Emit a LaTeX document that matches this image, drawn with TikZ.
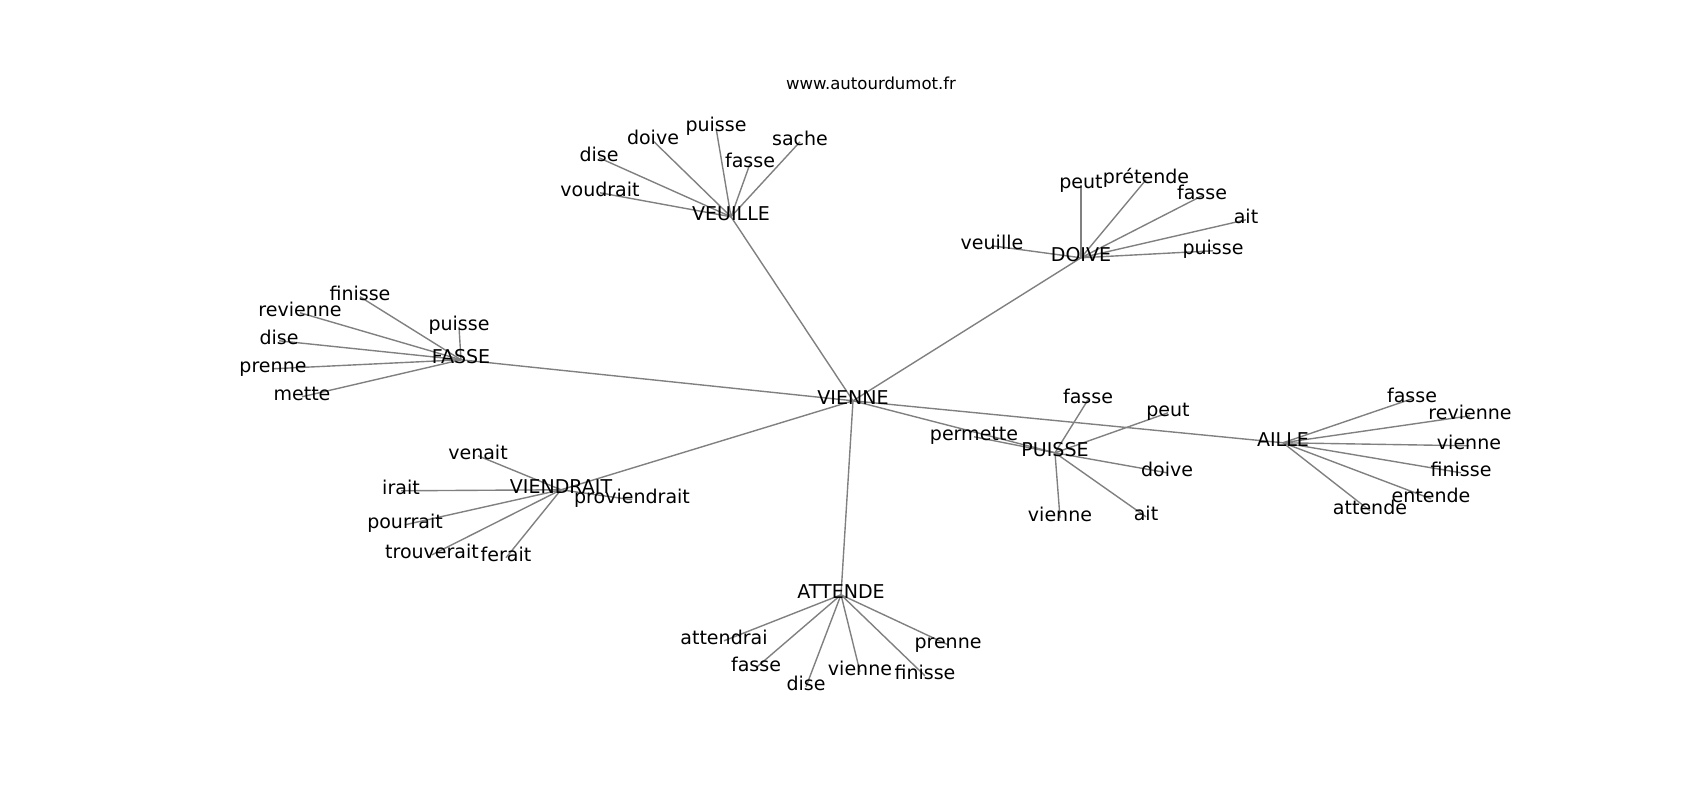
\documentclass[tikz,border=0pt]{standalone}
\usepackage{fontspec}
\setmainfont{DejaVu Sans}
\usetikzlibrary{backgrounds}
\tikzset{
  word/.style={inner sep=0pt, text height=0.76em, text depth=0.24em, yshift=-2pt, font=\fontsize{13.7}{16}\selectfont},
  link/.style={draw=black!50, line width=1pt}
}
\begin{document}
\begin{tikzpicture}[x=0.72pt, y=-0.72pt]
    \useasboundingbox (0,0) rectangle (1700,800);
    \node[word, font=\fontsize{11.9}{14}\selectfont] (site) at (871,83) {www.autourdumot.fr};
    % centre and its seven neighbours
    \node[word] (vienne) at (853,398) {VIENNE};
    \node[word] (veuille) at (731,214) {VEUILLE};
    \node[word] (doive) at (1081,255) {DOIVE};
    \node[word] (fasse) at (461,357) {FASSE};
    \node[word] (viendrait) at (561,487) {VIENDRAIT};
    \node[word] (attende) at (841,592) {ATTENDE};
    \node[word] (puisse) at (1055,450) {PUISSE};
    \node[word] (aille) at (1283,440) {AILLE};
    % VEUILLE
    \node[word] (veuille-voudrait) at (600,190) {voudrait};
    \node[word] (veuille-dise) at (599,155) {dise};
    \node[word] (veuille-doive) at (653,138) {doive};
    \node[word] (veuille-puisse) at (716,125) {puisse};
    \node[word] (veuille-fasse) at (750,161) {fasse};
    \node[word] (veuille-sache) at (800,139) {sache};
    % DOIVE
    \node[word] (doive-peut) at (1081,182) {peut};
    \node[word] (doive-pretende) at (1146,177) {prétende};
    \node[word] (doive-fasse) at (1202,193) {fasse};
    \node[word] (doive-ait) at (1246,217) {ait};
    \node[word] (doive-puisse) at (1213,248) {puisse};
    \node[word] (doive-veuille) at (992,243) {veuille};
    % FASSE
    \node[word] (fasse-finisse) at (360,294) {finisse};
    \node[word] (fasse-revienne) at (300,310) {revienne};
    \node[word] (fasse-dise) at (279,338) {dise};
    \node[word] (fasse-prenne) at (273,366) {prenne};
    \node[word] (fasse-mette) at (302,394) {mette};
    \node[word] (fasse-puisse) at (459,324) {puisse};
    % VIENDRAIT
    \node[word] (viendrait-venait) at (478,453) {venait};
    \node[word] (viendrait-irait) at (401,488) {irait};
    \node[word] (viendrait-pourrait) at (405,522) {pourrait};
    \node[word] (viendrait-trouverait) at (432,552) {trouverait};
    \node[word] (viendrait-ferait) at (506,555) {ferait};
    \node[word] (viendrait-proviendrait) at (632,497) {proviendrait};
    % ATTENDE
    \node[word] (attende-attendrai) at (724,638) {attendrai};
    \node[word] (attende-fasse) at (756,665) {fasse};
    \node[word] (attende-dise) at (806,684) {dise};
    \node[word] (attende-vienne) at (860,669) {vienne};
    \node[word] (attende-finisse) at (925,673) {finisse};
    \node[word] (attende-prenne) at (948,642) {prenne};
    % PUISSE
    \node[word] (puisse-fasse) at (1088,397) {fasse};
    \node[word] (puisse-peut) at (1168,410) {peut};
    \node[word] (puisse-permette) at (974,434) {permette};
    \node[word] (puisse-doive) at (1167,470) {doive};
    \node[word] (puisse-vienne) at (1060,515) {vienne};
    \node[word] (puisse-ait) at (1146,514) {ait};
    % AILLE
    \node[word] (aille-fasse) at (1412,396) {fasse};
    \node[word] (aille-revienne) at (1470,413) {revienne};
    \node[word] (aille-vienne) at (1469,443) {vienne};
    \node[word] (aille-finisse) at (1461,470) {finisse};
    \node[word] (aille-entende) at (1431,496) {entende};
    \node[word] (aille-attende) at (1370,508) {attende};
    \begin{scope}[on background layer]
        \fill[white] (0,0) rectangle (1700,800);
        \foreach \hub in {veuille, doive, fasse, viendrait, attende, puisse, aille}
            \draw[link] (vienne.center) -- (\hub.center);
        \foreach \leaf in {voudrait, dise, doive, puisse, fasse, sache}
            \draw[link] (veuille.center) -- (veuille-\leaf.center);
        \foreach \leaf in {peut, pretende, fasse, ait, puisse, veuille}
            \draw[link] (doive.center) -- (doive-\leaf.center);
        \foreach \leaf in {finisse, revienne, dise, prenne, mette, puisse}
            \draw[link] (fasse.center) -- (fasse-\leaf.center);
        \foreach \leaf in {venait, irait, pourrait, trouverait, ferait, proviendrait}
            \draw[link] (viendrait.center) -- (viendrait-\leaf.center);
        \foreach \leaf in {attendrai, fasse, dise, vienne, finisse, prenne}
            \draw[link] (attende.center) -- (attende-\leaf.center);
        \foreach \leaf in {fasse, peut, permette, doive, vienne, ait}
            \draw[link] (puisse.center) -- (puisse-\leaf.center);
        \foreach \leaf in {fasse, revienne, vienne, finisse, entende, attende}
            \draw[link] (aille.center) -- (aille-\leaf.center);
    \end{scope}
\end{tikzpicture}
\end{document}
